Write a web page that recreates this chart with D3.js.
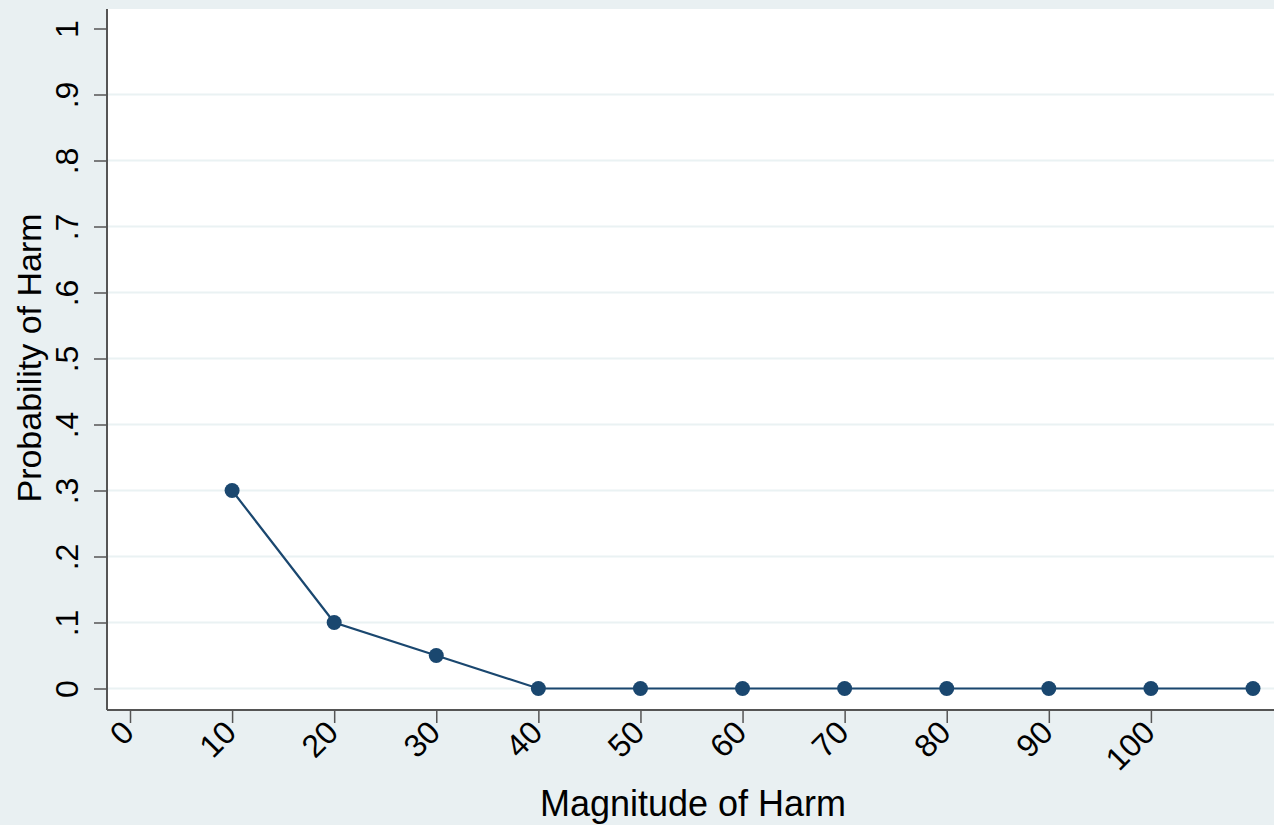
<!DOCTYPE html>
<html><head><meta charset="utf-8">
<script src="https://cdn.jsdelivr.net/npm/d3@7"></script>
<style>body{margin:0;background:#e9f0f2;} svg{display:block;}</style>
</head><body>
<svg id="c" width="1274" height="825"></svg>
<script>
const magnitude = [10, 20, 30, 40, 50, 60, 70, 80, 90, 100, 110];
const probability = [0.3, 0.1, 0.05, 0, 0, 0, 0, 0, 0, 0, 0];
const xTicks = [0, 10, 20, 30, 40, 50, 60, 70, 80, 90, 100];
const yTicks = [0, 0.1, 0.2, 0.3, 0.4, 0.5, 0.6, 0.7, 0.8, 0.9, 1];
const yTickLabels = ["0", ".1", ".2", ".3", ".4", ".5", ".6", ".7", ".8", ".9", "1"];
const xTitle = "Magnitude of Harm";
const yTitle = "Probability of Harm";

const W = 1274, H = 825;
const plot = {left: 107, top: 9, right: 1274, bottom: 710};
const svg = d3.select("#c");
const font = "'Liberation Sans', Arial, sans-serif";
const navy = "#1a476f";

svg.append("rect").attr("width", W).attr("height", H).attr("fill", "#e9f0f2");
svg.append("rect").attr("x", plot.left).attr("y", plot.top)
  .attr("width", plot.right - plot.left).attr("height", plot.bottom - plot.top).attr("fill", "#fff");

const x = d3.scaleLinear().domain([0, 110]).range([130, 1253]);
const y = d3.scaleLinear().domain([0, 1]).range([688.5, 28.5]);

// gridlines
svg.append("g").selectAll("line").data(yTicks.filter(d => d < 1)).join("line")
  .attr("x1", plot.left).attr("x2", plot.right)
  .attr("y1", d => y(d)).attr("y2", d => y(d))
  .attr("stroke", "#eaf2f3").attr("stroke-width", 2);

// Y axis
const yAxis = svg.append("g").attr("transform", `translate(${plot.left},0)`)
  .call(d3.axisLeft(y).tickValues(yTicks).tickSize(13).tickPadding(0)
    .tickFormat((d, i) => yTickLabels[i]));
yAxis.select(".domain").attr("d", `M0,${plot.top}V${plot.bottom}`).attr("stroke", "#555").attr("stroke-width", 2);
yAxis.selectAll(".tick line").attr("stroke", "#555").attr("stroke-width", 1.5);
yAxis.selectAll(".tick text")
  .attr("x", null).attr("dy", null)
  .attr("transform", "translate(-29,0) rotate(-90)")
  .attr("text-anchor", "middle")
  .attr("font-family", font).attr("font-size", 32).attr("fill", "#000");

// X axis
const xAxis = svg.append("g").attr("transform", `translate(0,${plot.bottom})`)
  .call(d3.axisBottom(x).tickValues(xTicks).tickSize(13).tickPadding(0).tickFormat(d3.format("d")));
xAxis.select(".domain").attr("d", `M${plot.left},0H${plot.right}`).attr("stroke", "#555").attr("stroke-width", 2);
xAxis.selectAll(".tick line").attr("stroke", "#555").attr("stroke-width", 1.5);
xAxis.selectAll(".tick text")
  .attr("y", null).attr("dy", null)
  .attr("transform", "translate(-11,8) rotate(-45)")
  .attr("text-anchor", "end").attr("dominant-baseline", "hanging")
  .attr("font-family", font).attr("font-size", 32).attr("fill", "#000");

// titles
svg.append("text").attr("x", 693).attr("y", 816).attr("text-anchor", "middle")
  .attr("font-family", font).attr("font-size", 36).attr("fill", "#000").text(xTitle);
svg.append("text").attr("transform", `translate(41,358) rotate(-90)`).attr("text-anchor", "middle")
  .attr("font-family", font).attr("font-size", 34).attr("fill", "#000").text(yTitle);

// line + markers
const data = magnitude.map((m, i) => ({m, p: probability[i]}));
svg.append("path").datum(data)
  .attr("d", d3.line().x(d => x(d.m)).y(d => y(d.p)))
  .attr("fill", "none").attr("stroke", navy).attr("stroke-width", 2.2);
svg.append("g").selectAll("circle").data(data).join("circle")
  .attr("cx", d => x(d.m)).attr("cy", d => y(d.p)).attr("r", 7.5).attr("fill", navy);
</script>
</body></html>
